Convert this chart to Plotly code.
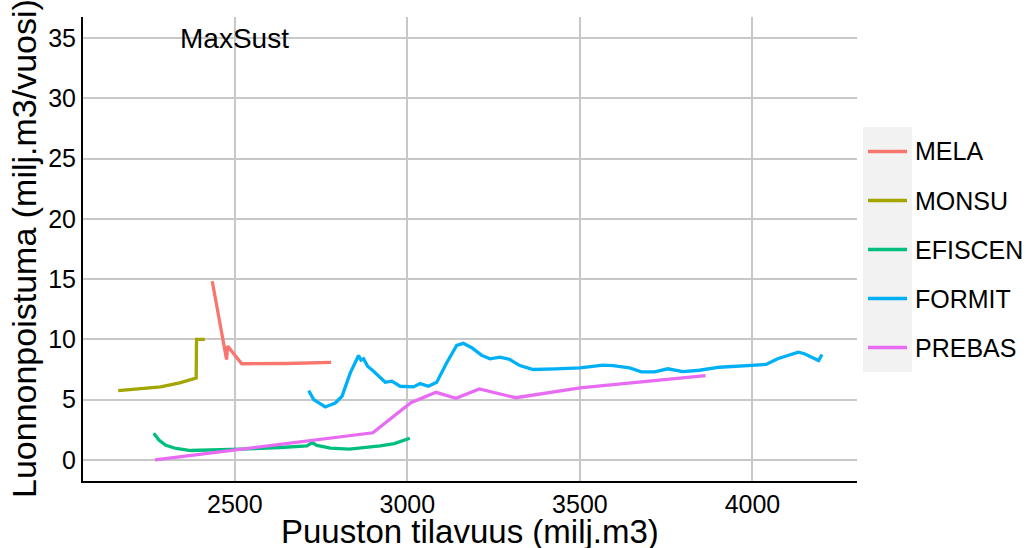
import plotly.graph_objects as go

# Model runs: standing volume (milj. m3) vs. natural mortality (milj. m3/vuosi)
mela_x = [2434.6, 2476, 2479, 2520, 2650, 2779]
mela_y = [14.83, 8.33, 9.45, 7.98, 8.0, 8.1]

monsu_x = [2162, 2220, 2285, 2340, 2388, 2389, 2413]
monsu_y = [5.75, 5.9, 6.06, 6.4, 6.8, 10.0, 10.0]

efiscen_x = [2265, 2280, 2300, 2330, 2372, 2450, 2516, 2632, 2709, 2724, 2738,
             2777, 2832, 2921, 2962, 3007]
efiscen_y = [2.22, 1.65, 1.22, 0.95, 0.78, 0.82, 0.89, 1.03, 1.17, 1.43, 1.2,
             0.97, 0.9, 1.17, 1.36, 1.8]

formit_x = [2714, 2728.5, 2762, 2791, 2810.6, 2834.6, 2858.6, 2865.5, 2873, 2884.6,
            2902, 2935.8, 2955, 2979, 3017.6, 3037, 3061, 3085, 3114, 3143, 3162,
            3186.5, 3215.5, 3239.5, 3268.4, 3297, 3326, 3364.7, 3430, 3500, 3567,
            3596, 3644, 3678, 3716.6, 3755, 3798, 3846.7, 3904.6, 4001, 4039.6,
            4073, 4107, 4133, 4150.5, 4179, 4191.7, 4201.6]
formit_y = [5.75, 5.0, 4.39, 4.72, 5.28, 7.22, 8.67, 8.28, 8.39, 7.78,
            7.36, 6.44, 6.53, 6.11, 6.06, 6.33, 6.11, 6.44, 8.06, 9.5, 9.67,
            9.31, 8.67, 8.39, 8.53, 8.33, 7.83, 7.5, 7.55, 7.64, 7.86,
            7.83, 7.64, 7.31, 7.31, 7.56, 7.33, 7.44, 7.69, 7.86, 7.92,
            8.39, 8.69, 8.94, 8.81, 8.44, 8.25, 8.75]

prebas_x = [2268.6, 2900, 3010, 3037, 3083, 3141, 3208.5, 3314, 3500, 3864]
prebas_y = [0.0, 2.25, 4.75, 5.06, 5.61, 5.11, 5.89, 5.16, 5.97, 7.0]

series_names = ["MELA", "MONSU", "EFISCEN", "FORMIT", "PREBAS"]
series_colors = ["#F8766D", "#A3A500", "#00BF7D", "#00B0F6", "#E76BF3"]
series_data = [(mela_x, mela_y), (monsu_x, monsu_y), (efiscen_x, efiscen_y),
               (formit_x, formit_y), (prebas_x, prebas_y)]

x_ticks = [2500, 3000, 3500, 4000]
y_ticks = [0, 5, 10, 15, 20, 25, 30, 35]

FONT = "Liberation Sans, Arial, sans-serif"
LINE_W = 3.3

# Figure and panel geometry in pixels
W, H = 1026, 548
PL, PR, PT, PB = 83, 857, 17, 481


def px_x(px):
    return (px - PL) / (PR - PL)


def px_y(py):
    return (PB - py) / (PB - PT)


fig = go.Figure()
for name, color, (xs, ys) in zip(series_names, series_colors, series_data):
    fig.add_trace(go.Scatter(
        x=xs, y=ys, mode="lines", name=name,
        line=dict(color=color, width=LINE_W), showlegend=False,
    ))

# Legend drawn as a key column with a grey background and labels beside it
key_left, key_right, key_top, key_size = 863, 912, 127, 49
shapes = [dict(
    type="rect", xref="paper", yref="paper", layer="below",
    x0=px_x(key_left), x1=px_x(key_right),
    y0=px_y(key_top + key_size * len(series_names)), y1=px_y(key_top),
    fillcolor="#F2F2F2", line=dict(width=0),
)]
annotations = []
for i, (name, color) in enumerate(zip(series_names, series_colors)):
    cy = key_top + key_size * (i + 0.5)
    shapes.append(dict(
        type="line", xref="paper", yref="paper", layer="above",
        x0=px_x(key_left + 5), x1=px_x(key_right - 5), y0=px_y(cy), y1=px_y(cy),
        line=dict(color=color, width=LINE_W),
    ))
    annotations.append(dict(
        text=name, x=px_x(key_right + 1), y=px_y(cy), xref="paper", yref="paper",
        showarrow=False, xanchor="left", yanchor="middle",
        font=dict(size=25, color="black"),
    ))

annotations += [
    dict(text="MaxSust", x=2500, y=35, xref="x", yref="y", showarrow=False,
         xanchor="center", yanchor="middle", font=dict(size=28, color="black")),
    dict(text="Puuston tilavuus (milj.m3)", x=0.5, y=px_y(511), xref="paper",
         yref="paper", showarrow=False, xanchor="center", yanchor="top",
         font=dict(size=33, color="black")),
    dict(text="Luonnonpoistuma (milj.m3/vuosi)", x=px_x(24), y=0.5, xref="paper",
         yref="paper", showarrow=False, xanchor="center", yanchor="middle",
         textangle=-90, font=dict(size=34, color="black")),
]

fig.update_layout(
    width=W, height=H,
    margin=dict(l=PL, r=W - PR, t=PT, b=H - PB),
    paper_bgcolor="white", plot_bgcolor="white",
    font=dict(family=FONT, color="black"),
    showlegend=False,
    xaxis=dict(
        range=[2060, 4303], tickvals=x_ticks, ticks="", showline=True,
        linecolor="black", linewidth=2, showgrid=True, gridcolor="#C8C8C8",
        gridwidth=2, zeroline=False, tickfont=dict(size=25, color="black"),
    ),
    yaxis=dict(
        range=[-1.75, 36.75], tickvals=y_ticks, ticks="", showline=True,
        linecolor="black", linewidth=2, showgrid=True, gridcolor="#C8C8C8",
        gridwidth=2, zeroline=False, tickfont=dict(size=25, color="black"),
    ),
    shapes=shapes,
    annotations=annotations,
)

fig.write_html("out.html")
